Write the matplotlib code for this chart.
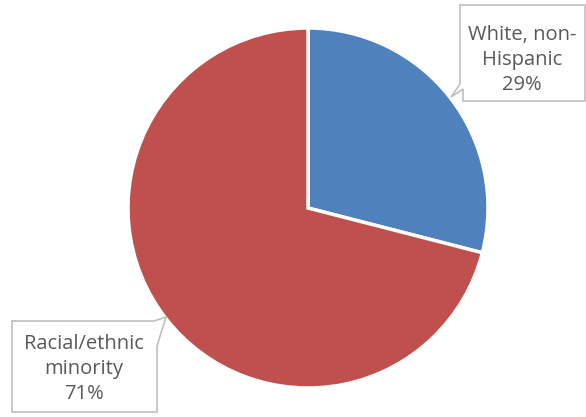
import matplotlib.pyplot as plt
from matplotlib.patches import Polygon

labels = ["White, non-\nHispanic", "Racial/ethnic\nminority"]
shares = [29, 71]
colors = ["#4F81BD", "#C0504D"]

W, H = 586, 417
fig = plt.figure(figsize=(W / 100, H / 100), dpi=100)

# pie placed by pixel geometry of the reference
cx, cy, r = 308, 208, 180
ax = fig.add_axes([(cx - r) / W, (H - cy - r) / H, 2 * r / W, 2 * r / H])
ax.pie(shares, colors=colors, startangle=90, counterclock=False,
       wedgeprops=dict(edgecolor="white", linewidth=2.5))
ax.set_xlim(-1, 1)
ax.set_ylim(-1, 1)
ax.set_aspect("equal")


def px(pts):
    return [(x / W, 1 - y / H) for x, y in pts]


# callout boxes (pixel coords, y down)
box1 = [(460, 5), (585, 5), (585, 101), (463, 101), (463, 89), (451, 97), (460, 84)]
box2 = [(12, 321), (154, 321), (166, 317), (157, 346), (157, 412), (12, 412)]
for pts in (box1, box2):
    fig.patches.append(Polygon(px(pts), closed=True, transform=fig.transFigure,
                               facecolor="white", edgecolor="#BFBFBF", lw=1.2))

txt_kw = dict(ha="center", va="center", color="#595959", fontsize=14.5,
              family="Open Sans", linespacing=1.36, transform=fig.transFigure)
fig.text(522 / W, 1 - 60 / H, f"{labels[0]}\n{shares[0]}%", **txt_kw)
fig.text(84 / W, 1 - 369 / H, f"{labels[1]}\n{shares[1]}%", **txt_kw)

fig.savefig("out.png", dpi=100)
